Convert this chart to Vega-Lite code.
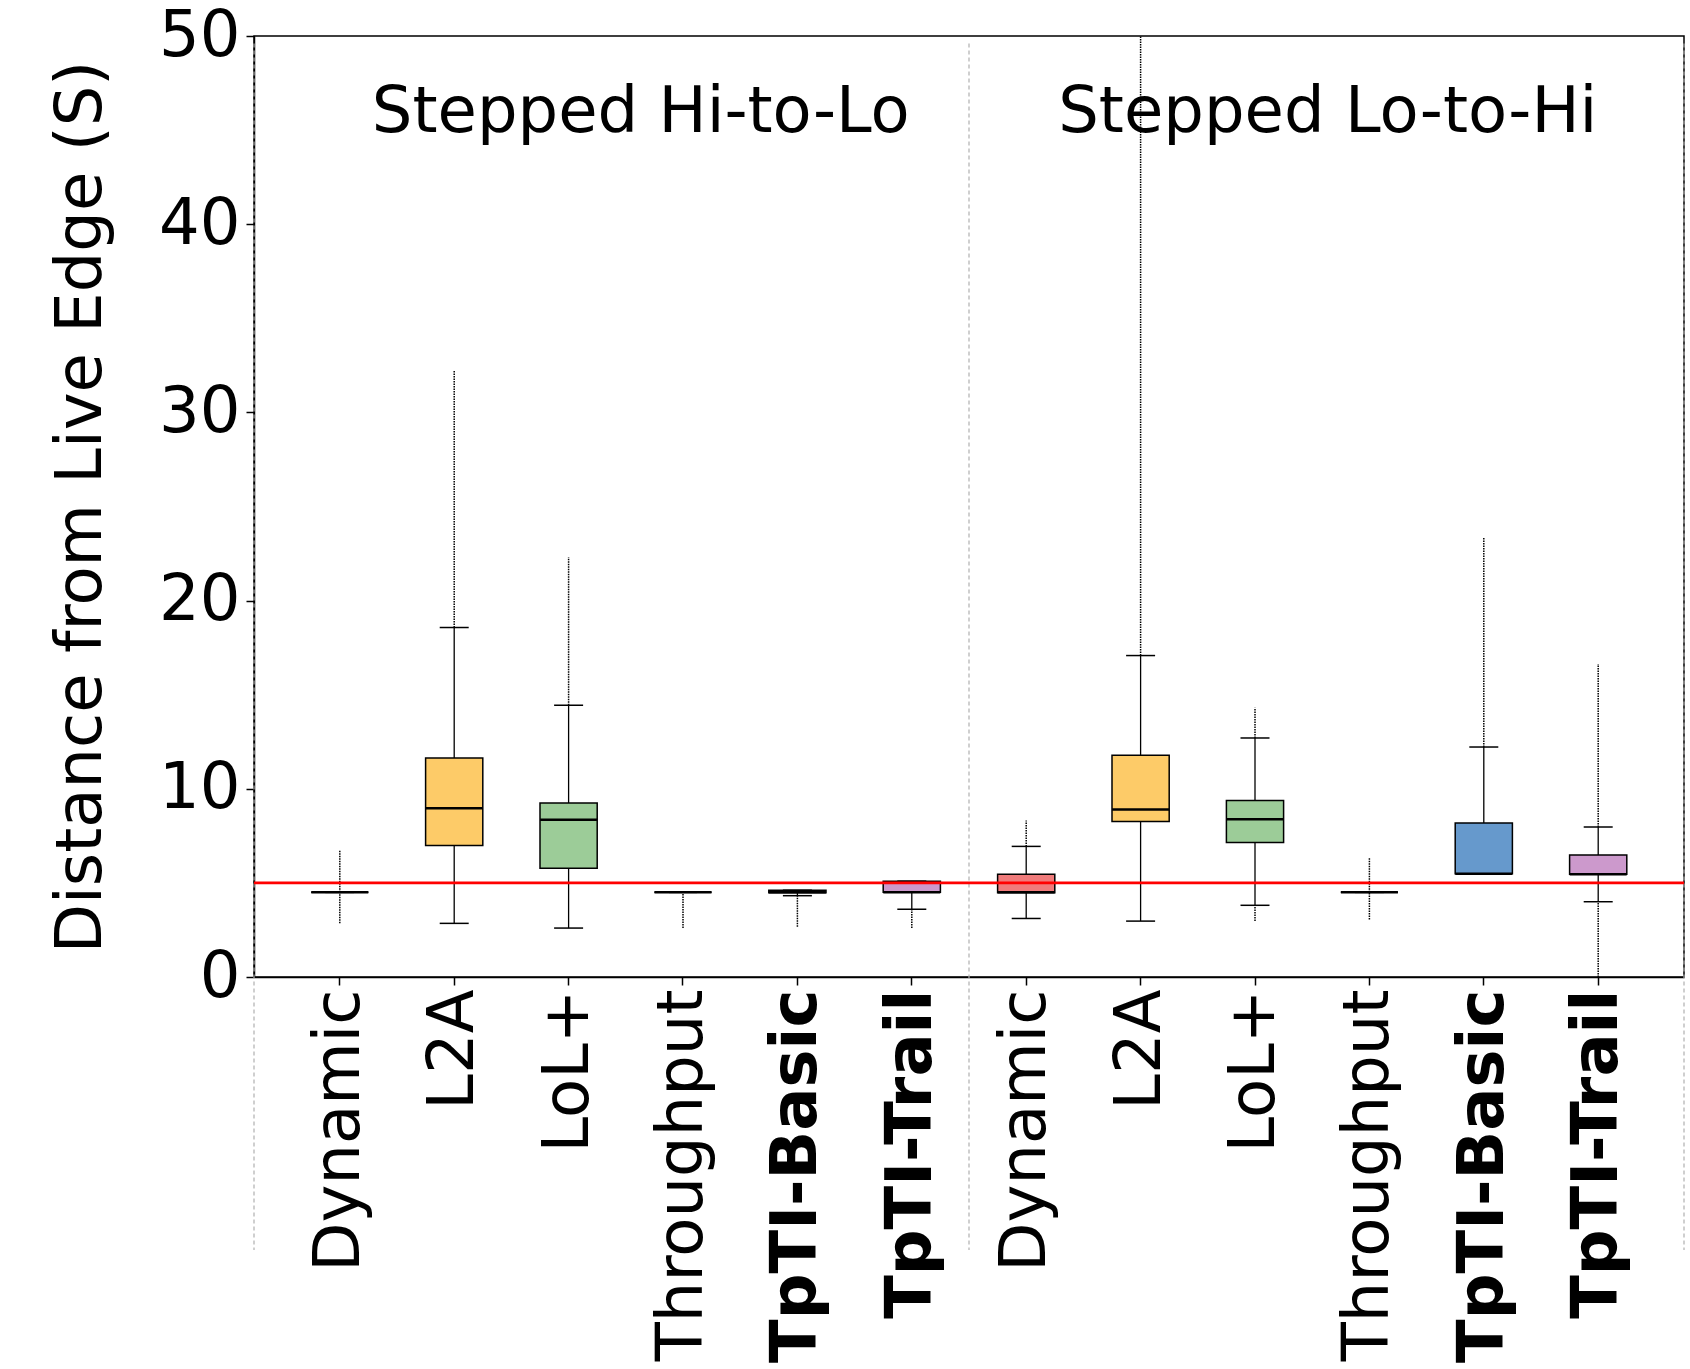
{
  "$schema": "https://vega.github.io/schema/vega-lite/v6.json",
  "width": 1430,
  "height": 941,
  "autosize": {"type": "none"},
  "padding": {"left": 254, "top": 36, "right": 6, "bottom": 392},
  "background": "white",
  "config": {
    "font": "DejaVu Sans",
    "view": {"stroke": "black", "strokeWidth": 1.5},
    "axis": {"grid": false, "domainColor": "black", "domainWidth": 1.5, "tickColor": "black", "tickWidth": 1.5, "tickSize": 8, "labelColor": "black", "titleColor": "black", "labelFont": "DejaVu Sans", "titleFont": "DejaVu Sans", "labelFontSize": 64, "titleFontSize": 64, "titleFontWeight": "normal", "labelFlush": false, "labelOverlap": false, "labelLimit": 2000}
  },
  "datasets": {
    "boxes": [
      {"key": "H|Dynamic", "method": "Dynamic", "scenario": "Stepped Hi-to-Lo", "wlo": 4.5, "q1": 4.5, "med": 4.5, "q3": 4.5, "whi": 4.5, "flo": 2.85, "fhi": 6.76},
      {"key": "H|L2A", "method": "L2A", "scenario": "Stepped Hi-to-Lo", "wlo": 2.85, "q1": 6.99, "med": 8.97, "q3": 11.63, "whi": 18.57, "flo": 2.85, "fhi": 32.2},
      {"key": "H|LoL+", "method": "LoL+", "scenario": "Stepped Hi-to-Lo", "wlo": 2.6, "q1": 5.78, "med": 8.36, "q3": 9.25, "whi": 14.44, "flo": 2.6, "fhi": 22.3},
      {"key": "H|Throughput", "method": "Throughput", "scenario": "Stepped Hi-to-Lo", "wlo": 4.5, "q1": 4.5, "med": 4.5, "q3": 4.5, "whi": 4.5, "flo": 2.6, "fhi": 4.5},
      {"key": "H|TpTI-Basic", "method": "TpTI-Basic", "scenario": "Stepped Hi-to-Lo", "wlo": 4.32, "q1": 4.48, "med": 4.5, "q3": 4.61, "whi": 4.61, "flo": 2.67, "fhi": 4.61},
      {"key": "H|TpTI-Trail", "method": "TpTI-Trail", "scenario": "Stepped Hi-to-Lo", "wlo": 3.6, "q1": 4.5, "med": 4.5, "q3": 5.09, "whi": 5.09, "flo": 2.61, "fhi": 5.09},
      {"key": "L|Dynamic", "method": "Dynamic", "scenario": "Stepped Lo-to-Hi", "wlo": 3.11, "q1": 4.48, "med": 4.5, "q3": 5.46, "whi": 6.94, "flo": 3.11, "fhi": 8.31},
      {"key": "L|L2A", "method": "L2A", "scenario": "Stepped Lo-to-Hi", "wlo": 2.97, "q1": 8.26, "med": 8.9, "q3": 11.78, "whi": 17.08, "flo": 2.97, "fhi": 50},
      {"key": "L|LoL+", "method": "LoL+", "scenario": "Stepped Lo-to-Hi", "wlo": 3.81, "q1": 7.15, "med": 8.38, "q3": 9.38, "whi": 12.7, "flo": 2.97, "fhi": 14.3},
      {"key": "L|Throughput", "method": "Throughput", "scenario": "Stepped Lo-to-Hi", "wlo": 4.5, "q1": 4.5, "med": 4.5, "q3": 4.5, "whi": 4.5, "flo": 3.06, "fhi": 6.35},
      {"key": "L|TpTI-Basic", "method": "TpTI-Basic", "scenario": "Stepped Lo-to-Hi", "wlo": 5.48, "q1": 5.48, "med": 5.48, "q3": 8.18, "whi": 12.22, "flo": 5.48, "fhi": 23.34},
      {"key": "L|TpTI-Trail", "method": "TpTI-Trail", "scenario": "Stepped Lo-to-Hi", "wlo": 4.0, "q1": 5.46, "med": 5.46, "q3": 6.48, "whi": 7.97, "flo": 0, "fhi": 16.63}
    ],
    "titles": [
      {"key": "H|Dynamic", "label": "Stepped Hi-to-Lo"},
      {"key": "L|Dynamic", "label": "Stepped Lo-to-Hi"}
    ],
    "target": [{"target": 5}]
  },
  "layer": [
    {
      "data": {"name": "boxes"},
      "mark": {"type": "rule", "color": "black", "strokeWidth": 1.5, "strokeDash": [1.5, 1]},
      "encoding": {
        "x": {
          "field": "key", "type": "nominal",
          "scale": {"type": "band", "paddingInner": 0, "paddingOuter": 0.25, "domain": ["H|Dynamic", "H|L2A", "H|LoL+", "H|Throughput", "H|TpTI-Basic", "H|TpTI-Trail", "L|Dynamic", "L|L2A", "L|LoL+", "L|Throughput", "L|TpTI-Basic", "L|TpTI-Trail"]},
          "axis": {"title": null, "labelAngle": -90, "labelPadding": 4, "labelExpr": "split(datum.value, '|')[1]", "labelFontWeight": {"condition": {"test": "indexof(datum.value, 'TpTI') >= 0", "value": "bold"}, "value": "normal"}}
        },
        "y": {"field": "flo", "type": "quantitative", "scale": {"domain": [0, 50]}, "axis": {"title": "Distance from Live Edge (S)", "values": [0, 10, 20, 30, 40, 50], "labelPadding": 6, "titlePadding": 45}},
        "y2": {"field": "wlo"}
      }
    },
    {
      "data": {"name": "boxes"},
      "mark": {"type": "rule", "color": "black", "strokeWidth": 1.5, "strokeDash": [1.5, 1]},
      "encoding": {
        "x": {"field": "key", "type": "nominal"},
        "y": {"field": "whi", "type": "quantitative"},
        "y2": {"field": "fhi"}
      }
    },
    {
      "data": {"name": "boxes"},
      "mark": {"type": "rule", "color": "black", "strokeWidth": 1.3},
      "encoding": {
        "x": {"field": "key", "type": "nominal"},
        "y": {"field": "wlo", "type": "quantitative"},
        "y2": {"field": "whi"}
      }
    },
    {
      "data": {"name": "boxes"},
      "mark": {"type": "bar", "width": {"band": 0.5}, "stroke": "black", "strokeWidth": 1.5},
      "encoding": {
        "x": {"field": "key", "type": "nominal"},
        "y": {"field": "q1", "type": "quantitative"},
        "y2": {"field": "q3"},
        "color": {"field": "method", "type": "nominal", "legend": null, "scale": {"domain": ["Dynamic", "L2A", "LoL+", "Throughput", "TpTI-Basic", "TpTI-Trail"], "range": ["#f07b7b", "#fdcb68", "#9ccc98", "#aaaaaa", "#6699cc", "#cc99cc"]}}
      }
    },
    {
      "data": {"name": "boxes"},
      "mark": {"type": "tick", "color": "black", "thickness": 2.5, "size": 57, "opacity": 1},
      "encoding": {
        "x": {"field": "key", "type": "nominal"},
        "y": {"field": "med", "type": "quantitative"}
      }
    },
    {
      "data": {"name": "boxes"},
      "mark": {"type": "tick", "color": "black", "thickness": 1.5, "size": 29, "opacity": 1},
      "encoding": {
        "x": {"field": "key", "type": "nominal"},
        "y": {"field": "wlo", "type": "quantitative"}
      }
    },
    {
      "data": {"name": "boxes"},
      "mark": {"type": "tick", "color": "black", "thickness": 1.5, "size": 29, "opacity": 1},
      "encoding": {
        "x": {"field": "key", "type": "nominal"},
        "y": {"field": "whi", "type": "quantitative"}
      }
    },
    {
      "data": {"values": [{"key": "L|Dynamic"}]},
      "mark": {"type": "rule", "color": "#b0b0b0", "strokeWidth": 1.2, "strokeDash": [4, 3]},
      "encoding": {
        "x": {"field": "key", "type": "nominal", "bandPosition": 0},
        "y": {"datum": 49.6, "type": "quantitative"},
        "y2": {"datum": -14.5}
      }
    },
    {
      "data": {"values": [{"key": "H|Dynamic"}]},
      "mark": {"type": "rule", "color": "#b0b0b0", "strokeWidth": 1.2, "strokeDash": [4, 3]},
      "encoding": {
        "x": {"field": "key", "type": "nominal", "bandPosition": -0.25},
        "y": {"datum": 49.6, "type": "quantitative"},
        "y2": {"datum": -14.5}
      }
    },
    {
      "data": {"values": [{"key": "L|TpTI-Trail"}]},
      "mark": {"type": "rule", "color": "#b0b0b0", "strokeWidth": 1.2, "strokeDash": [4, 3]},
      "encoding": {
        "x": {"field": "key", "type": "nominal", "bandPosition": 1.25},
        "y": {"datum": 49.6, "type": "quantitative"},
        "y2": {"datum": -14.5}
      }
    },
    {
      "data": {"name": "target"},
      "mark": {"type": "rule", "color": "#ff0000", "strokeWidth": 2.7},
      "encoding": {
        "y": {"field": "target", "type": "quantitative"}
      }
    },
    {
      "data": {"name": "titles"},
      "mark": {"type": "text", "align": "left", "baseline": "alphabetic", "fontSize": 64, "font": "DejaVu Sans", "color": "black"},
      "encoding": {
        "x": {"field": "key", "type": "nominal", "bandPosition": 0.78},
        "y": {"datum": 44.9, "type": "quantitative"},
        "text": {"field": "label"}
      }
    }
  ]
}
